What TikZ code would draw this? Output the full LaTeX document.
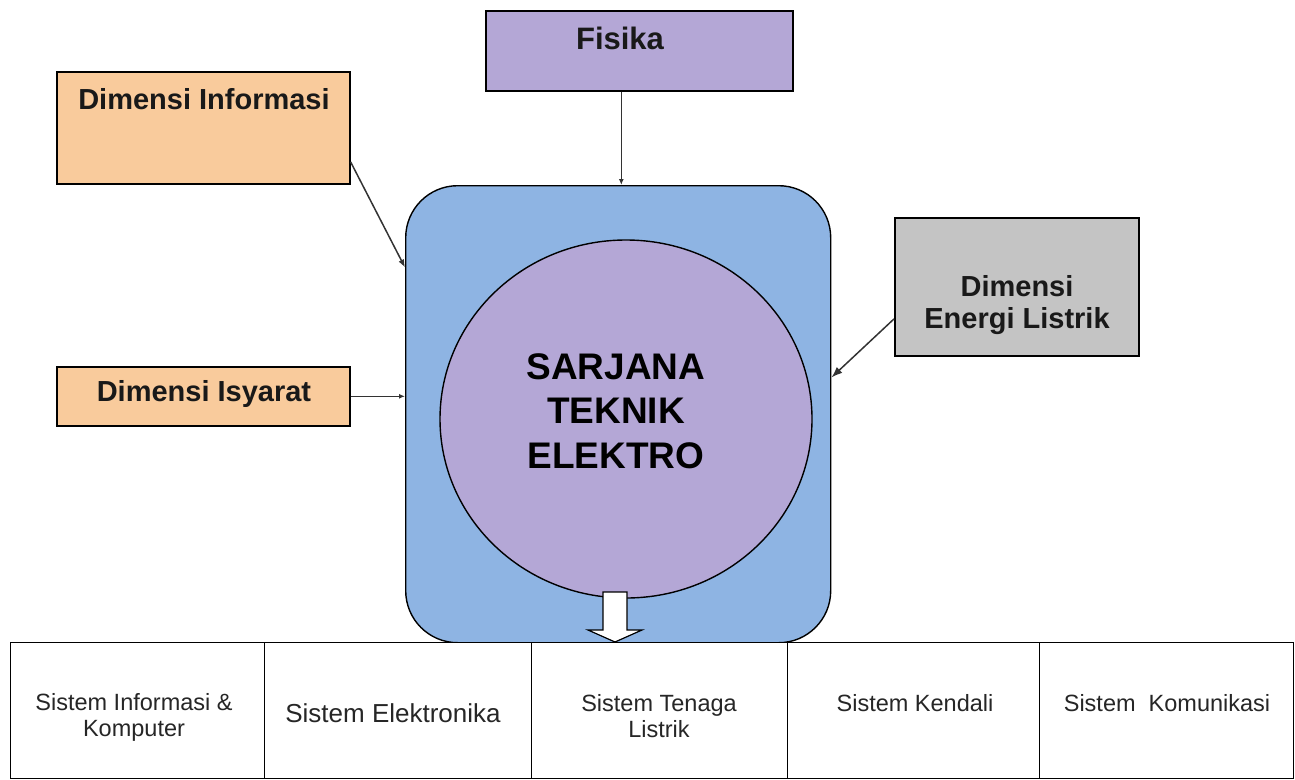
\documentclass[tikz,border=0pt]{standalone}
\usepackage{fontspec}
\setmainfont{Liberation Sans}
\usetikzlibrary{arrows.meta,positioning,calc,shapes.geometric}
\definecolor{STPurple}{HTML}{B4A7D6}
\definecolor{STPeach}{HTML}{F9CB9C}
\definecolor{STGray}{HTML}{C4C4C4}
\definecolor{STBlue}{HTML}{8EB4E3}
\definecolor{STLine}{HTML}{333333}
\definecolor{STInk}{HTML}{262626}
\tikzset{dimbox/.style={draw=black,line width=1.6pt,inner sep=0pt,anchor=north west}, dimtext/.style={font=\bfseries\fontsize{29}{32}\selectfont,align=center,text=black!90,inner sep=0pt}, sysbox/.style={draw=black,line width=1.4pt,fill=white,inner sep=0pt,anchor=north west,minimum height=136pt}, systext/.style={font=\fontsize{23.5}{26}\selectfont,text=STInk,align=center,inner sep=0pt}, feed/.style={-{Latex[length=8pt,width=6pt]},line width=1.5pt,draw=STLine}}

\begin{document}
\begin{tikzpicture}[x=1pt,y=-1pt]
\useasboundingbox (0,0) rectangle (1295,779);
% inti program studi
\node[draw=black,line width=1.4pt,fill=STBlue,rounded corners=52pt,inner sep=0pt,anchor=north west,minimum width=425pt,minimum height=457pt] (prodi) at (405,185) {};
\node[ellipse,draw=black,line width=1.4pt,fill=STPurple,inner sep=0pt,minimum width=372pt,minimum height=358pt] (ste) at (626,419) {};
\node[font=\bfseries\fontsize{37}{44.5}\selectfont,align=center,inner sep=0pt] (steText) at (616,411) {SARJANA\\TEKNIK\\ELEKTRO};
\draw[line width=1.2pt,fill=white] (603,592) -- (627,592) -- (627,630) -- (642,630) -- (615,642) -- (588,630) -- (603,630) -- cycle;
% bidang keahlian
\node[sysbox,minimum width=254pt] (sik) at (10,642) {};
\node[sysbox,minimum width=267pt] (sel) at (264,642) {};
\node[sysbox,minimum width=256pt] (stl) at (531,642) {};
\node[sysbox,minimum width=252pt] (skd) at (787,642) {};
\node[sysbox,minimum width=254pt] (skm) at (1039,642) {};
\node[systext] (sikText) at (134,717) {Sistem Informasi \&\\Komputer};
\node[systext,font=\fontsize{26}{28}\selectfont] (selText) at (393,713) {Sistem Elektronika};
\node[systext] (stlText) at (659,716) {Sistem Tenaga\\Listrik};
\node[systext] (skdText) at (915,703) {Sistem Kendali};
\node[systext] (skmText) at (1167,703) {Sistem\ \ Komunikasi};
% dimensi
\node[dimbox,fill=STPurple,minimum width=307pt,minimum height=80pt] (fisika) at (485,10) {};
\node[dimtext,font=\bfseries\fontsize{31}{34}\selectfont] (fisikaText) at (620,38) {Fisika};
\node[dimbox,fill=STPeach,minimum width=293pt,minimum height=112pt] (info) at (56,71) {};
\node[dimtext] (infoText) at (204,99) {Dimensi Informasi};
\node[dimbox,fill=STPeach,minimum width=293pt,minimum height=59pt] (isyarat) at (56,366) {};
\node[dimtext] (isyaratText) at (204,394) {Dimensi Isyarat};
\node[dimbox,fill=STGray,minimum width=244pt,minimum height=138pt] (energi) at (894,217) {};
\node[dimtext] (energiText) at (1017,305) {Dimensi\\Energi Listrik};
% panah masukan
\coordinate (fisikaOut) at ($(fisika.south)+(-18,0)$);
\draw[feed,-{Latex[length=6pt,width=5pt]}] (fisikaOut) -- (fisikaOut |- prodi.north);
\draw[feed] ($(info.south east)!0.2!(info.north east)$) -- ($(prodi.north west)!0.36!(prodi.west)$);
\draw[feed,-{Latex[length=6pt,width=5pt]}] (isyarat.east) -- (prodi.west |- isyarat.east);
\draw[feed,-{Latex[length=11pt,width=8pt]}] ($(energi.west)!0.46!(energi.south west)$) -- ($(prodi.east)!0.16!(prodi.north east)$);
\end{tikzpicture}
\end{document}
